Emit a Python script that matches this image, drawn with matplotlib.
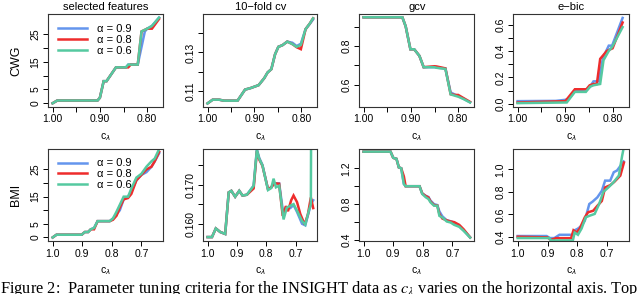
# Parameter tuning criteria for the INSIGHT data (CWG / BMI), three alpha values

import matplotlib
matplotlib.use('Agg')
import matplotlib.pyplot as plt

plt.rcParams['font.family'] = ['Liberation Sans', 'DejaVu Sans']
plt.rcParams['mathtext.fontset'] = 'dejavusans'

ALPHAS = ['0.9', '0.8', '0.6']
COLORS = ['#6495ED', '#EE2C2C', '#55C9A0']
TITLES = ['selected features', '10\u2212fold cv', 'gcv', 'e\u2212bic']
ROWS = ['CWG', 'BMI']

# ---- top row (CWG) ----
cwg_sel_x_b = [1.00, 0.99, 0.905, 0.90, 0.892, 0.886, 0.878, 0.866, 0.845, 0.84, 0.82, 0.805, 0.80, 0.79, 0.775]
cwg_sel_y_b = [0, 1, 1, 2, 8, 8, 10, 13, 13, 14, 14, 26, 27, 28, 31]
cwg_sel_x_r = [1.00, 0.99, 0.905, 0.90, 0.892, 0.886, 0.878, 0.866, 0.84, 0.835, 0.82, 0.812, 0.80, 0.79, 0.775]
cwg_sel_y_r = [0, 1, 1, 2, 8, 8, 10, 13, 13, 14, 14, 26, 27, 27, 30.5]
cwg_sel_x_g = [1.00, 0.99, 0.905, 0.90, 0.892, 0.886, 0.878, 0.866, 0.845, 0.84, 0.82, 0.812, 0.80, 0.79, 0.775]
cwg_sel_y_g = [0, 1, 1, 2, 8, 8, 10, 13, 13, 14, 14, 26, 27, 28, 31]

cwg_cv_x = [1.00, 0.989, 0.975, 0.965, 0.936, 0.929, 0.920, 0.908, 0.891, 0.879, 0.872,
            0.864, 0.856, 0.849, 0.840, 0.830, 0.819, 0.810, 0.801, 0.791, 0.782, 0.775]
cwg_cv_y_b = [0.1038, 0.1057, 0.1057, 0.1052, 0.1052, 0.1077, 0.1109, 0.1117, 0.1132, 0.1168, 0.1197,
              0.1214, 0.1291, 0.1329, 0.1338, 0.1356, 0.1350, 0.1333, 0.1345, 0.1420, 0.1447, 0.1470]
cwg_cv_y_r = [0.1038, 0.1057, 0.1057, 0.1052, 0.1052, 0.1077, 0.1109, 0.1117, 0.1132, 0.1168, 0.1197,
              0.1214, 0.1291, 0.1329, 0.1338, 0.1356, 0.1343, 0.1327, 0.1317, 0.1420, 0.1449, 0.1476]
cwg_cv_y_g = [0.1038, 0.1057, 0.1057, 0.1052, 0.1052, 0.1077, 0.1109, 0.1117, 0.1132, 0.1168, 0.1197,
              0.1214, 0.1291, 0.1329, 0.1338, 0.1356, 0.1343, 0.1329, 0.1339, 0.1420, 0.1449, 0.1476]

cwg_gcv_x = [1.00, 0.918, 0.911, 0.901, 0.893, 0.882, 0.873, 0.850, 0.846, 0.827, 0.816, 0.807, 0.800, 0.789, 0.775]
cwg_gcv_y_b = [0.949, 0.949, 0.902, 0.783, 0.783, 0.749, 0.690, 0.690, 0.688, 0.683, 0.559, 0.548, 0.540, 0.527, 0.508]
cwg_gcv_y_r = [0.949, 0.949, 0.902, 0.783, 0.783, 0.749, 0.690, 0.695, 0.694, 0.684, 0.550, 0.546, 0.546, 0.530, 0.510]
cwg_gcv_y_g = [0.949, 0.949, 0.902, 0.783, 0.783, 0.749, 0.690, 0.690, 0.687, 0.681, 0.549, 0.542, 0.537, 0.525, 0.507]

cwg_bic_x_b = [1.00, 0.92, 0.90, 0.892, 0.88, 0.854, 0.848, 0.841, 0.830, 0.821, 0.809, 0.802, 0.78]
cwg_bic_y_b = [0.02, 0.022, 0.03, 0.04, 0.10, 0.11, 0.13, 0.17, 0.17, 0.35, 0.44, 0.44, 0.65]
cwg_bic_x_r = [1.00, 0.90, 0.88, 0.856, 0.849, 0.841, 0.834, 0.827, 0.813, 0.801, 0.78]
cwg_bic_y_r = [0.01, 0.02, 0.11, 0.11, 0.14, 0.15, 0.15, 0.34, 0.40, 0.42, 0.615]
cwg_bic_x_g = [1.00, 0.897, 0.88, 0.857, 0.848, 0.841, 0.827, 0.820, 0.809, 0.802, 0.78]
cwg_bic_y_g = [0.005, 0.01, 0.09, 0.09, 0.13, 0.14, 0.15, 0.33, 0.40, 0.43, 0.58]

# ---- bottom row (BMI) ----
bmi_sel_x = [1.0, 0.987, 0.902, 0.891, 0.880, 0.871, 0.860, 0.848, 0.807, 0.796, 0.784,
             0.773, 0.760, 0.745, 0.734, 0.717, 0.700, 0.683, 0.666, 0.655, 0.640]
bmi_sel_y_b = [0, 1, 1, 2, 2, 3, 3.5, 6, 6, 7, 8.5, 10, 14, 15, 17, 21, 23, 24, 26, 28, 31]
bmi_sel_y_r = [0, 1, 1, 2, 2, 3, 3, 6, 6, 6.5, 8, 11, 14, 14.5, 16, 21, 23, 25, 26, 28, 31.5]
bmi_sel_y_g = [0, 1, 1, 2, 2, 3, 3.5, 6, 6, 7, 9.5, 12, 15, 15, 18, 22, 23.4, 26, 28, 29, 32.5]

bmi_cv_x_b = [1.0, 0.985, 0.972, 0.957, 0.940, 0.928, 0.919, 0.906, 0.892, 0.881, 0.866, 0.843, 0.832, 0.824, 0.813,
              0.794, 0.783, 0.775, 0.767, 0.756, 0.741, 0.730, 0.718, 0.707, 0.695, 0.678, 0.667, 0.655, 0.648, 0.640]
bmi_cv_y_b = [0.1566, 0.1566, 0.1588, 0.1579, 0.1574, 0.1680, 0.1684, 0.1669, 0.1684, 0.1672, 0.1674, 0.1697, 0.1790,
              0.1768, 0.1750, 0.1688, 0.1693, 0.1703, 0.1703, 0.1703, 0.1620, 0.1641, 0.1640, 0.1648, 0.1630, 0.1600,
              0.1596, 0.1630, 0.1650, 0.1660]
bmi_cv_x_r = [1.0, 0.985, 0.972, 0.957, 0.940, 0.928, 0.919, 0.906, 0.892, 0.881, 0.866, 0.843, 0.832, 0.824, 0.813,
              0.794, 0.783, 0.775, 0.767, 0.756, 0.744, 0.733, 0.726, 0.715, 0.707, 0.695, 0.684, 0.669, 0.658, 0.648,
              0.640]
bmi_cv_y_r = [0.1566, 0.1566, 0.1588, 0.1579, 0.1574, 0.1680, 0.1684, 0.1669, 0.1684, 0.1672, 0.1674, 0.1690, 0.1785,
              0.1764, 0.1748, 0.1688, 0.1693, 0.1700, 0.1703, 0.1702, 0.1620, 0.1645, 0.1632, 0.1660, 0.1672, 0.1655,
              0.1625, 0.1598, 0.1624, 0.1667, 0.1640]
bmi_cv_x_g = [1.0, 0.985, 0.972, 0.957, 0.940, 0.928, 0.919, 0.906, 0.892, 0.881, 0.866, 0.843, 0.832, 0.824, 0.813,
              0.794, 0.783, 0.775, 0.767, 0.756, 0.741, 0.730, 0.718, 0.707, 0.695, 0.678, 0.667, 0.655, 0.648, 0.647]
bmi_cv_y_g = [0.1566, 0.1566, 0.1588, 0.1579, 0.1574, 0.1680, 0.1684, 0.1669, 0.1684, 0.1672, 0.1674, 0.1697, 0.1788,
              0.1766, 0.1749, 0.1686, 0.1691, 0.1715, 0.1693, 0.1697, 0.1611, 0.1641, 0.1646, 0.1650, 0.1633, 0.1607,
              0.1598, 0.1633, 0.1650, 0.1850]

bmi_gcv_x = [1.0, 0.909, 0.900, 0.889, 0.881, 0.873, 0.864, 0.858, 0.811, 0.802, 0.790, 0.781, 0.774, 0.762,
             0.751, 0.744, 0.734, 0.719, 0.706, 0.694, 0.677, 0.662, 0.640]
bmi_gcv_y_b = [1.385, 1.385, 1.316, 1.305, 1.21, 1.20, 1.025, 1.0, 1.0, 0.92, 0.893, 0.880, 0.840, 0.80,
               0.79, 0.72, 0.665, 0.62, 0.61, 0.595, 0.560, 0.51, 0.43]
bmi_gcv_y_r = [1.385, 1.385, 1.316, 1.305, 1.21, 1.20, 1.11, 1.0, 1.0, 0.92, 0.89, 0.875, 0.83, 0.79,
               0.785, 0.69, 0.64, 0.62, 0.607, 0.60, 0.57, 0.52, 0.43]
bmi_gcv_y_g = [1.385, 1.385, 1.316, 1.305, 1.21, 1.20, 1.025, 1.0, 1.0, 0.914, 0.877, 0.858, 0.821, 0.783,
               0.783, 0.67, 0.652, 0.607, 0.596, 0.57, 0.548, 0.503, 0.428]

bmi_bic_x_b = [1.0, 0.903, 0.892, 0.877, 0.860, 0.815, 0.809, 0.798, 0.786, 0.775, 0.760, 0.749, 0.733, 0.718,
               0.707, 0.690, 0.678, 0.667, 0.656, 0.645]
bmi_bic_y_b = [0.409, 0.409, 0.391, 0.391, 0.42, 0.42, 0.46, 0.475, 0.50, 0.545, 0.693, 0.714, 0.752, 0.81,
               0.90, 0.90, 0.975, 0.99, 1.03, 1.07]
bmi_bic_x_r = [1.0, 0.9, 0.889, 0.872, 0.821, 0.813, 0.803, 0.792, 0.775, 0.764, 0.747, 0.733, 0.718, 0.707,
               0.690, 0.676, 0.665, 0.656, 0.644]
bmi_bic_y_r = [0.403, 0.397, 0.375, 0.39, 0.39, 0.46, 0.44, 0.475, 0.575, 0.62, 0.633, 0.677, 0.72, 0.84,
               0.86, 0.89, 0.92, 0.945, 1.06]
bmi_bic_x_g = [1.0, 0.894, 0.889, 0.815, 0.809, 0.798, 0.786, 0.772, 0.758, 0.742, 0.727, 0.713, 0.696, 0.679,
               0.661, 0.650, 0.644]
bmi_bic_y_g = [0.391, 0.391, 0.37, 0.37, 0.44, 0.42, 0.475, 0.575, 0.59, 0.605, 0.693, 0.80, 0.84, 0.885,
               0.945, 1.12, 1.2]

# tick values / labels (R drops overlapping labels)
top_xticks = [1.00, 0.95, 0.90, 0.85, 0.80]
top_xlabels = ['1.00', '', '0.90', '', '0.80']
bot_xticks = [1.0, 0.9, 0.8, 0.7]
bot_xlabels = ['1.0', '0.9', '0.8', '0.7']

CAPTION = ('Figure 2:  Parameter tuning criteria for the INSIGHT data as $c_\\lambda$ '
           'varies on the horizontal axis. Top')


def panels():
    sel = [0, 5, 10, 15, 20, 25]
    sel_l = ['0', '5', '', '15', '', '25']
    top = [
        ([(cwg_sel_x_b, cwg_sel_y_b), (cwg_sel_x_r, cwg_sel_y_r), (cwg_sel_x_g, cwg_sel_y_g)],
         (-1.24, 32.24), sel, sel_l),
        ([(cwg_cv_x, cwg_cv_y_b), (cwg_cv_x, cwg_cv_y_r), (cwg_cv_x, cwg_cv_y_g)],
         (0.1021, 0.1497), [0.11, 0.12, 0.13, 0.14], ['0.11', '', '0.13', '']),
        ([(cwg_gcv_x, cwg_gcv_y_b), (cwg_gcv_x, cwg_gcv_y_r), (cwg_gcv_x, cwg_gcv_y_g)],
         (0.485, 0.965), [0.6, 0.7, 0.8, 0.9], ['0.6', '', '0.8', '']),
        ([(cwg_bic_x_b, cwg_bic_y_b), (cwg_bic_x_r, cwg_bic_y_r), (cwg_bic_x_g, cwg_bic_y_g)],
         (-0.022, 0.678), [0.0, 0.1, 0.2, 0.3, 0.4, 0.5, 0.6], ['0.0', '', '0.2', '', '0.4', '', '0.6']),
    ]
    bot = [
        ([(bmi_sel_x, bmi_sel_y_b), (bmi_sel_x, bmi_sel_y_r), (bmi_sel_x, bmi_sel_y_g)],
         (-1.3, 32.7), sel, sel_l),
        ([(bmi_cv_x_b, bmi_cv_y_b), (bmi_cv_x_r, bmi_cv_y_r), (bmi_cv_x_g, bmi_cv_y_g)],
         (0.1556, 0.1792), [0.160, 0.165, 0.170, 0.175], ['0.160', '', '0.170', '']),
        ([(bmi_gcv_x, bmi_gcv_y_b), (bmi_gcv_x, bmi_gcv_y_r), (bmi_gcv_x, bmi_gcv_y_g)],
         (0.39, 1.42), [0.4, 0.6, 0.8, 1.0, 1.2], ['0.4', '', '0.8', '', '1.2']),
        ([(bmi_bic_x_b, bmi_bic_y_b), (bmi_bic_x_r, bmi_bic_y_r), (bmi_bic_x_g, bmi_bic_y_g)],
         (0.365, 1.185), [0.4, 0.6, 0.8, 1.0], ['0.4', '0.6', '0.8', '1.0']),
    ]
    return top, bot


def main():
    fig = plt.figure(figsize=(6.4, 2.94), dpi=100)
    lefts = [48.3, 203.3, 359.3, 513.3]
    widths = [115, 114, 115, 116]
    row_bottoms = [1 - 106.7 / 294, 1 - 241 / 294]
    h = 92.5 / 294
    top, bot = panels()

    for r, row in enumerate([top, bot]):
        for c, (series, ylim, yt, yl) in enumerate(row):
            ax = fig.add_axes([lefts[c] / 640, row_bottoms[r], widths[c] / 640, h])
            for (x, y), col, a in zip(series, COLORS, ALPHAS):
                ax.plot(x, y, color=col, lw=1.8, label='\u03b1 = ' + a, solid_joinstyle='miter')
            if r == 0:
                ax.set_xlim(1.009, 0.766)
                ax.set_xticks(top_xticks)
                ax.set_xticklabels(top_xlabels)
                ax.set_title(TITLES[c], fontsize=8, pad=3)
            else:
                ax.set_xlim(1.0146, 0.626)
                ax.set_xticks(bot_xticks)
                ax.set_xticklabels(bot_xlabels)
            ax.set_ylim(*ylim)
            ax.set_yticks(yt)
            ax.set_yticklabels(yl, rotation=90, va='center')
            ax.tick_params(labelsize=7.5, length=3.5, width=0.7, pad=2)
            ax.set_xlabel(r'$\mathregular{c}_{\lambda}$', fontsize=7.5, labelpad=5)
            for s in ax.spines.values():
                s.set_linewidth(0.8)
                s.set_color('#333333')
            if c == 0:
                ax.set_ylabel(ROWS[r], fontsize=9, labelpad=6)
                ax.legend(loc='upper left', frameon=False, fontsize=8, handlelength=2.6,
                          labelspacing=0.08, borderaxespad=0.5, handletextpad=0.9)

    fig.text(0.0, 1.2 / 294, CAPTION, family='Liberation Serif', math_fontfamily='stix',
             fontsize=11.8, va='baseline', ha='left')
    fig.savefig('out.png', dpi=100)


if __name__ == "__main__":
    main()
